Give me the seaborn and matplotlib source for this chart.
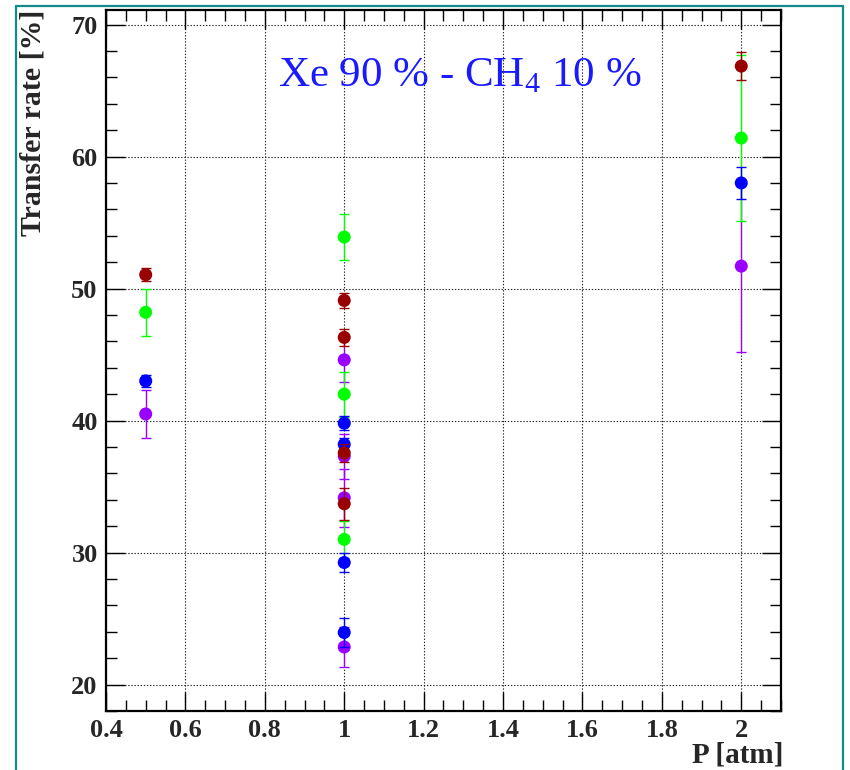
import matplotlib
matplotlib.use("Agg")
import matplotlib.pyplot as plt
from matplotlib.lines import Line2D
from matplotlib.ticker import MultipleLocator
import seaborn as sns
import pandas as pd

# ---------------- data ----------------
p_red = [0.5, 1, 1, 1, 1, 2]
rate_red = [51.05, 49.1, 46.3, 37.55, 33.7, 66.85]
err_red = [0.5, 0.55, 0.65, 0.7, 1.2, 1.05]

p_green = [0.5, 1, 1, 1, 2]
rate_green = [48.2, 53.9, 42.0, 31.0, 61.4]
err_green = [1.8, 1.75, 1.7, 1.4, 6.3]

p_blue = [0.5, 1, 1, 1, 1, 2]
rate_blue = [43.0, 39.8, 38.2, 29.25, 23.95, 58.0]
err_blue = [0.45, 0.55, 0.5, 0.75, 1.1, 1.2]

p_purple = [0.5, 1, 1, 1, 1, 2]
rate_purple = [40.5, 44.6, 37.3, 34.15, 22.85, 51.7]
err_purple = [1.85, 1.7, 1.7, 2.2, 1.5, 6.5]

title_text = "Xe 90 % - CH$_\\mathregular{4}$ 10 %"
x_label = "P [atm]"
y_label = "Transfer rate [%]"

# drawing order: purple, green, blue, red
series = [
    ("purple", p_purple, rate_purple, err_purple, "#9900ff"),
    ("green", p_green, rate_green, err_green, "#00ff00"),
    ("blue", p_blue, rate_blue, err_blue, "#0000ff"),
    ("red", p_red, rate_red, err_red, "#990000"),
]

# ---------------- style ----------------
sns.set_style("ticks")
plt.rcParams["font.family"] = ["Liberation Serif", "DejaVu Serif"]
plt.rcParams["mathtext.fontset"] = "custom"
plt.rcParams["mathtext.rm"] = "Liberation Serif"

fig = plt.figure(figsize=(8.5, 7.7), dpi=100)
ax = fig.add_axes([0.1247, 0.0766, 0.7941, 0.9104])

frames = []
for name, px, py, pe, col in series:
    frames.append(pd.DataFrame({"P": px, "rate": py, "err": pe, "series": name}))
df = pd.concat(frames, ignore_index=True)

z = 3
for name, px, py, pe, col in series:
    sub = df[df["series"] == name]
    ax.errorbar(sub["P"], sub["rate"], yerr=sub["err"], fmt="none",
                ecolor=col, elinewidth=1.0, capsize=3.3, capthick=1.0, zorder=z)
    sns.scatterplot(data=sub, x="P", y="rate", color=col, s=88,
                    edgecolor="none", linewidth=0, ax=ax, zorder=z + 0.5,
                    legend=False)
    z += 1

ax.set_xlim(0.4, 2.1)
ax.set_ylim(18.0, 71.1)

ax.xaxis.set_major_locator(MultipleLocator(0.2))
ax.xaxis.set_minor_locator(MultipleLocator(0.05))
ax.yaxis.set_major_locator(MultipleLocator(10))
ax.yaxis.set_minor_locator(MultipleLocator(2))
ax.set_xticks([0.4, 0.6, 0.8, 1.0, 1.2, 1.4, 1.6, 1.8, 2.0])
ax.set_xticklabels(["0.4", "0.6", "0.8", "1", "1.2", "1.4", "1.6", "1.8", "2"])

ax.grid(True, which="major", color="#222222", linestyle=(0, (1.2, 1.6)),
        linewidth=0.8, zorder=1)
ax.set_axisbelow(True)

ax.tick_params(which="both", direction="in", top=True, right=True,
               color="black")
ax.tick_params(which="major", length=14, width=1.0, pad=6, labelsize=19)
ax.tick_params(which="minor", length=8, width=1.0)
for lab in ax.get_xticklabels() + ax.get_yticklabels():
    lab.set_fontweight("bold")

for sp in ax.spines.values():
    sp.set_linewidth(1.6)
    sp.set_color("black")

ax.set_xlabel(x_label, fontsize=21, fontweight="bold", loc="right")
ax.xaxis.set_label_coords(1.003, -0.043)
ax.set_ylabel(y_label, fontsize=21.5, fontweight="bold", loc="top")
ax.yaxis.set_label_coords(-0.088, 1.0)

ax.text(0.524, 0.907, title_text, transform=ax.transAxes, ha="center",
        va="center", fontsize=31, color="#1a1aff", zorder=10)

# teal frame around the figure
W, H = 850.0, 770.0
teal = "#138a8a"
fx0, fx1, fy0 = 15.5 / W, 843.0 / W, 1 - 5.5 / H
fig.add_artist(Line2D([fx0, fx0], [0, fy0], color=teal, lw=1.6,
                      transform=fig.transFigure))
fig.add_artist(Line2D([fx1, fx1], [0, fy0], color=teal, lw=1.6,
                      transform=fig.transFigure))
fig.add_artist(Line2D([fx0, fx1], [fy0, fy0], color=teal, lw=1.6,
                      transform=fig.transFigure))

fig.savefig("out.png", dpi=100)
